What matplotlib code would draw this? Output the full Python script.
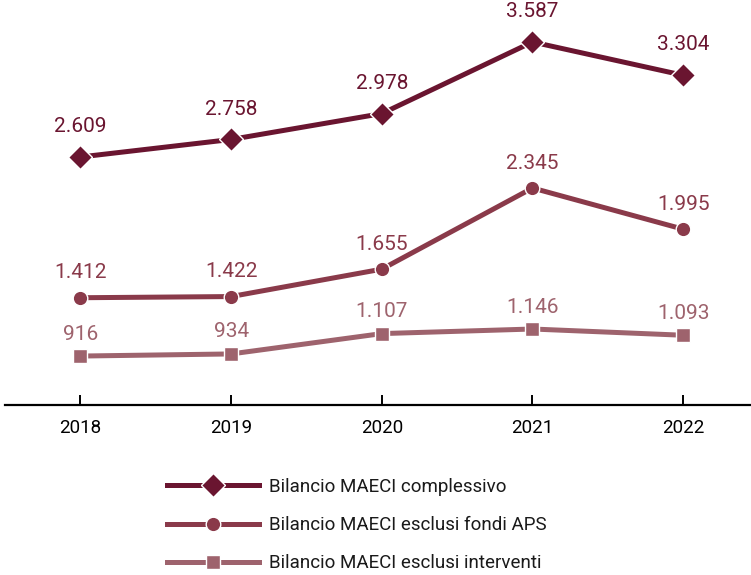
import matplotlib
matplotlib.use("Agg")
import matplotlib.pyplot as plt

# data
years = [2018, 2019, 2020, 2021, 2022]
complessivo = [2609, 2758, 2978, 3587, 3304]
esclusi_aps = [1412, 1422, 1655, 2345, 1995]
esclusi_interventi = [916, 934, 1107, 1146, 1093]
labels = ["Bilancio MAECI complessivo",
          "Bilancio MAECI esclusi fondi APS",
          "Bilancio MAECI esclusi interventi"]

plt.rcParams['font.family'] = ['Roboto', 'DejaVu Sans']

def fmt(v):
    # italian thousands separator
    return f"{v:,}".replace(",", ".")

fig = plt.figure(figsize=(7.51, 5.75), dpi=100)
ax = fig.add_axes([0.0067, 0.2957, 0.9933, 0.7043])

series = [
    (complessivo, "#6a1530", "D", 12, 15),
    (esclusi_aps, "#8a3a4a", "o", 10.5, 11),
    (esclusi_interventi, "#9e636d", "s", 10, 9),
]
for (vals, col, mk, ms, off), lab in zip(series, labels):
    ax.plot(years, vals, color=col, lw=3.6, marker=mk, markersize=ms,
            markeredgecolor="white", markeredgewidth=1, label=lab)
    for x, y in zip(years, vals):
        ax.annotate(fmt(y), (x, y), xytext=(0, off), textcoords="offset points",
                    ha="center", va="bottom", fontsize=15, color=col)

ax.set_xlim(2017.5, 2022.45)
ax.set_ylim(500, 3944)
ax.set_xticks(years)
ax.set_xticklabels([str(y) for y in years])
ax.set_yticks([])
for s in ["top", "right", "left"]:
    ax.spines[s].set_visible(False)
ax.spines["bottom"].set_linewidth(1.6)
ax.tick_params(axis="x", direction="in", length=7, width=1.4, labelsize=13.5, pad=10)
ax.patch.set_alpha(0)

leg = fig.legend(loc="upper left", bbox_to_anchor=(0.213, 0.182), frameon=False,
                 fontsize=13.5, handlelength=4.9, labelspacing=1.08, handletextpad=0.5,
                 borderaxespad=0)
for t in leg.get_texts():
    t.set_color("#1a1a1a")

fig.savefig("out.png", dpi=100)
